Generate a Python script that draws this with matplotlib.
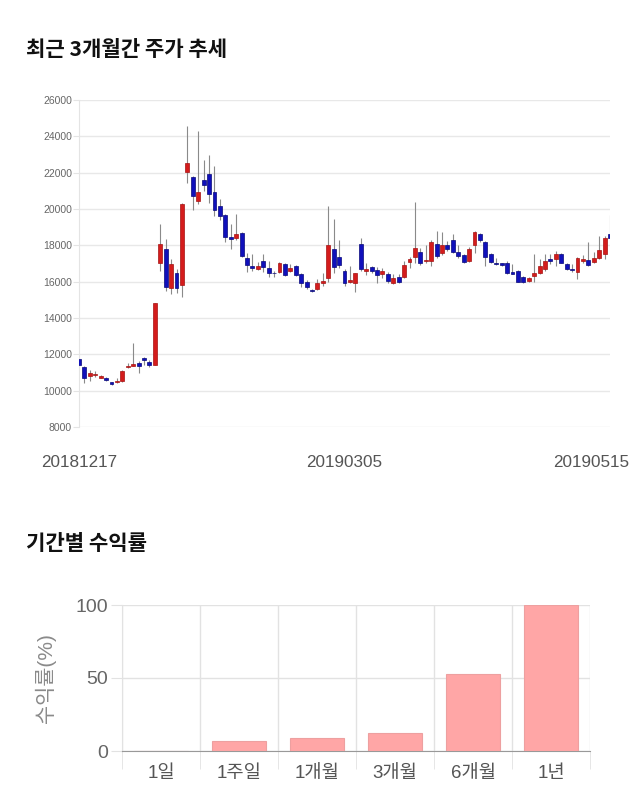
import matplotlib
matplotlib.use('Agg')
import matplotlib.pyplot as plt
import matplotlib.transforms as mtransforms
import numpy as np

plt.rcParams['font.family'] = ['Liberation Sans', 'Noto Sans CJK KR', 'DejaVu Sans']

# daily candles, 2018-12-17 .. 2019-05-15
opens = [11750, 11300, 10800, 10880, 10720, 10720, 10470, 10500, 10520, 11280,
         11380, 11520, 11820, 11560, 11420, 17000, 17800, 15650, 16500, 15800,
         22050, 21750, 20450, 21600, 21950, 20950, 20150, 19650, 18470, 18420,
         18680, 17320, 16860, 16720, 17150, 16770, 16500, 16550, 16970, 16590,
         16860, 16400, 16000, 15540, 15580, 15910, 16220, 17800, 17370, 16570,
         16000, 15910, 18070, 16600, 16790, 16660, 16440, 16440, 15910, 16280,
         16280, 17080, 17370, 17650, 17120, 17140, 18100, 17560, 18010, 18290,
         17650, 17450, 17140, 18010, 18630, 18200, 17520, 17040, 17000, 17000,
         16550, 16600, 16260, 16050, 16310, 16500, 16710, 17240, 17230, 17500,
         17000, 16710, 16530, 17150, 17210, 17100, 17310, 17500, 18630]
highs = [11800, 11350, 11150, 11100, 10850, 10760, 10500, 10680, 11150, 11550,
         12650, 11650, 11850, 11700, 14830, 19200, 18350, 17230, 16680, 20350,
         24550, 21800, 24300, 22700, 22950, 22350, 20550, 19700, 19150, 19750,
         18750, 17600, 17500, 17100, 17500, 17130, 16590, 17100, 17050, 16950,
         16910, 16450, 16100, 15600, 16170, 16460, 20150, 19470, 18320, 16680,
         16860, 16500, 18380, 17000, 16860, 16800, 16770, 16530, 16400, 16400,
         17130, 17370, 20390, 17860, 18040, 18320, 18780, 18720, 18230, 18630,
         18040, 17500, 17900, 18780, 18700, 18250, 17600, 17310, 17050, 17130,
         16950, 16650, 16300, 16280, 17540, 17230, 17540, 17500, 17680, 17560,
         17040, 16950, 17370, 17460, 18200, 17650, 18540, 18540, 19660]
lows = [11350, 10400, 10550, 10750, 10680, 10520, 10330, 10400, 10500, 11250,
        11350, 10980, 11400, 11300, 11400, 16600, 15500, 15300, 15400, 15150,
        21450, 19950, 20250, 21000, 20350, 19600, 19400, 18200, 17800, 18300,
        17350, 16530, 16600, 16650, 16530, 16280, 16260, 16450, 16300, 16550,
        16330, 15700, 15600, 15420, 15550, 15770, 16000, 16500, 16770, 15760,
        15950, 15450, 16600, 16370, 16500, 15950, 16220, 15950, 15880, 15950,
        16220, 16730, 17000, 16900, 17050, 16860, 17300, 17450, 17680, 17600,
        17300, 17050, 17100, 17560, 18200, 16860, 17000, 16900, 16850, 16400,
        16400, 15980, 15950, 16000, 16000, 16420, 16590, 16950, 16880, 17000,
        16650, 16530, 16170, 17050, 16880, 17050, 17250, 17230, 18400]
closes = [11400, 10700, 11000, 10920, 10800, 10570, 10360, 10540, 11100, 11380,
          11450, 11380, 11680, 11430, 14800, 18080, 15700, 16950, 15650, 20300,
          22550, 20700, 20950, 21300, 20850, 19950, 19600, 18450, 18330, 18650,
          17420, 16920, 16740, 16860, 16810, 16460, 16450, 17000, 16360, 16730,
          16370, 15950, 15680, 15460, 15950, 16040, 18000, 16810, 16920, 15950,
          16080, 16460, 16680, 16680, 16590, 16370, 16570, 16040, 16180, 16000,
          16915, 17230, 17860, 17040, 17190, 18200, 17410, 18010, 17810, 17650,
          17410, 17100, 17810, 18720, 18290, 17360, 17100, 16980, 16900, 16460,
          16440, 16000, 15990, 16200, 16460, 16860, 17150, 17150, 17500, 17040,
          16710, 16660, 17310, 17230, 16920, 17310, 17760, 18430, 18430]
date_labels = ['20181217', '20190305', '20190515']
date_index = [0, 49, 98]

periods = ['1일', '1주일', '1개월', '3개월', '6개월', '1년']
returns = [0.0, 6.8, 8.9, 12.3, 52.7, 99.8]

fig = plt.figure(figsize=(6.4, 8.1), dpi=100)

title_font = ['Noto Sans CJK KR', 'DejaVu Sans']
fig.text(26 / 640, 1 - 50 / 810, '최근 3개월간 주가 추세', fontsize=15.2,
         fontweight='bold', family=title_font, va='center', ha='left',
         color='#111111')
fig.text(26 / 640, 1 - 543 / 810, '기간별 수익률', fontsize=15.2,
         fontweight='bold', family=title_font, va='center', ha='left',
         color='#111111')

# candlestick chart
ax = fig.add_axes([79 / 640, 1 - 427 / 810, 531 / 640, 327 / 810])
x = np.arange(len(opens))
o = np.array(opens)
c = np.array(closes)
up = c >= o
body_bottom = np.minimum(o, c)
body_h = np.maximum(np.abs(c - o), 40)
colors = np.where(up, '#d41c1c', '#1010bb')
edges = np.where(up, '#a51212', '#08087a')
ax.vlines(x, lows, highs, color='#8a8a8a', linewidth=0.8, zorder=2)
ax.bar(x, body_h, bottom=body_bottom, width=0.72, color=colors,
       edgecolor=edges, linewidth=0.5, zorder=3)
ax.set_xlim(0, len(opens) - 1)
ax.set_ylim(8000, 26000)
ax.set_yticks(np.arange(8000, 26001, 2000))
ax.yaxis.grid(True, color='#e8e8e8', linewidth=1)
ax.set_axisbelow(True)
for s in ['top', 'right', 'bottom']:
    ax.spines[s].set_visible(False)
ax.spines['left'].set_color('#e4e4e4')
ax.tick_params(axis='y', labelsize=7.5, labelcolor='#666666', length=4,
               color='#e4e4e4', pad=1)
ax.set_xticks(date_index)
ax.set_xticklabels(date_labels)
ax.tick_params(axis='x', labelsize=12.3, labelcolor='#555555', length=0, pad=20)
last = ax.get_xticklabels()[-1]
last.set_transform(last.get_transform() +
                   mtransforms.ScaledTranslation(-19 / 100, 0, fig.dpi_scale_trans))

# period returns bar chart
bx = fig.add_axes([122 / 640, 1 - 751 / 810, 468 / 640, 146 / 810])
bpos = np.arange(len(periods))
bx.bar(bpos, returns, width=0.7, color='#ffa6a6', edgecolor='#eda0a0',
       linewidth=0.8, zorder=3)
bx.set_xlim(-0.5, len(periods) - 0.5)
bx.set_ylim(0, 100)
bx.set_yticks([0, 50, 100])
bx.yaxis.grid(True, color='#e2e2e2', linewidth=1)
bx.set_xticks(bpos)
bx.set_xticklabels(periods)
bx.set_xticks(np.arange(-0.5, len(periods)), minor=True)
bx.xaxis.grid(True, which='minor', color='#e2e2e2', linewidth=1)
bx.set_axisbelow(True)
for s in ['top', 'right']:
    bx.spines[s].set_visible(False)
bx.spines['left'].set_color('#e2e2e2')
bx.spines['bottom'].set_color('#999999')
bx.tick_params(axis='x', which='major', length=0, labelsize=13.5,
               labelcolor='#555555', pad=10)
bx.tick_params(axis='x', which='minor', length=13, color='#e2e2e2')
bx.tick_params(axis='y', length=8, color='#e2e2e2', labelsize=14,
               labelcolor='#666666', pad=2)
bx.set_ylabel('수익률(%)', fontsize=15, color='#8a8a8a', labelpad=14)

fig.savefig('out.png', dpi=100)
